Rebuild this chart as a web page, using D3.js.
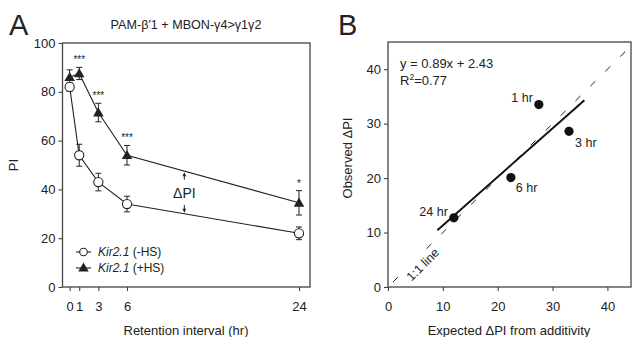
<!DOCTYPE html>
<html><head><meta charset="utf-8">
<script src="https://cdn.jsdelivr.net/npm/d3@7"></script>
<style>
body{margin:0;background:#fff;}
svg text{font-family:"Liberation Sans",Arial,sans-serif;fill:#222;}
</style></head>
<body>
<svg id="c" width="633" height="337"></svg>
<script>
// ---- Panel A data ----
const hours = [0, 1, 3, 6, 24];
const piMinusHS = [82, 54, 43, 34, 22];
const errMinusHS = [1.8, 4.5, 3.6, 3.2, 2.6];
const piPlusHS = [86, 87.5, 71.5, 54, 34.5];
const errPlusHS = [3, 2.5, 3.8, 4, 5];
const sigMarks = ["", "***", "***", "***", "*"];
const xTicksA = [0, 1, 3, 6, 24];
const yTicksA = [0, 20, 40, 60, 80, 100];
const titleA = "PAM-β'1 + MBON-γ4>γ1γ2";
const legendA = [{ital:"Kir2.1", rest:" (-HS)"}, {ital:"Kir2.1", rest:" (+HS)"}];

// ---- Panel B data ----
const labelsB = ["1 hr", "3 hr", "6 hr", "24 hr"];
const expectedB = [27.5, 33.0, 22.4, 12.0];
const observedB = [33.5, 28.6, 20.1, 12.7];
const fitSlope = 0.89, fitIntercept = 2.43;
const fitRange = [9, 35.8];
const xTicksB = [0, 10, 20, 30, 40];
const yTicksB = [0, 10, 20, 30, 40];

const svg = d3.select("#c");
const ink = "#222", frame = "#444";

// ================= Panel A =================
const xA = d3.scaleLinear().domain([-0.75, 25.15]).range([62.5, 310]);
const yA = d3.scaleLinear().domain([0, 100]).range([287, 43]);
const gA = svg.append("g");

gA.append("rect").attr("x", xA.range()[0]).attr("y", yA.range()[1])
  .attr("width", xA.range()[1]-xA.range()[0]).attr("height", yA.range()[0]-yA.range()[1])
  .attr("fill","none").attr("stroke",frame).attr("stroke-width",1.3);

const axA_x = gA.append("g").attr("transform",`translate(0,${yA.range()[0]})`)
  .call(d3.axisBottom(xA).tickValues(xTicksA).tickSize(4).tickPadding(11).tickFormat(d3.format("d")));
const axA_y = gA.append("g").attr("transform",`translate(${xA.range()[0]},0)`)
  .call(d3.axisLeft(yA).tickValues(yTicksA).tickSize(4).tickPadding(3));
[axA_x, axA_y].forEach(a=>{
  a.select(".domain").remove();
  a.selectAll("line").attr("stroke",frame).attr("stroke-width",1.1);
  a.selectAll("text").style("font-size","13px").attr("fill",ink);
});

const lineA = (vals)=> d3.line().x((d,i)=>xA(hours[i])).y(d=>yA(d))(vals);
gA.append("path").attr("d",lineA(piMinusHS)).attr("fill","none").attr("stroke",ink).attr("stroke-width",1.1);
gA.append("path").attr("d",lineA(piPlusHS)).attr("fill","none").attr("stroke",ink).attr("stroke-width",1.1);

function errBars(vals, errs){
  vals.forEach((v,i)=>{
    const x = xA(hours[i]);
    gA.append("line").attr("x1",x).attr("x2",x).attr("y1",yA(v-errs[i])).attr("y2",yA(v+errs[i]))
      .attr("stroke",ink).attr("stroke-width",1);
    [v-errs[i], v+errs[i]].forEach(e=>{
      gA.append("line").attr("x1",x-3).attr("x2",x+3).attr("y1",yA(e)).attr("y2",yA(e))
        .attr("stroke",ink).attr("stroke-width",1);
    });
  });
}
errBars(piMinusHS, errMinusHS);
errBars(piPlusHS, errPlusHS);

const tri = d3.symbol().type(d3.symbolTriangle).size(48);
piPlusHS.forEach((v,i)=>{
  gA.append("path").attr("d",tri()).attr("transform",`translate(${xA(hours[i])},${yA(v)+0.8})`).attr("fill",ink);
});
piMinusHS.forEach((v,i)=>{
  gA.append("circle").attr("cx",xA(hours[i])).attr("cy",yA(v)).attr("r",4.6)
    .attr("fill","#fff").attr("stroke",ink).attr("stroke-width",1.1);
});

sigMarks.forEach((s,i)=>{
  if(!s) return;
  gA.append("text").attr("x",xA(hours[i])).attr("y",yA(piPlusHS[i]+errPlusHS[i])-4)
    .attr("text-anchor","middle").style("font-size","10px").attr("fill","#333").text(s);
});

const annX = xA(12);
function arrow(fromV, toV){
  const y1 = yA(fromV), y2 = yA(toV);
  gA.append("line").attr("x1",annX).attr("x2",annX).attr("y1",y1).attr("y2",y2).attr("stroke",ink).attr("stroke-width",1);
  const dir = y2 < y1 ? 1 : -1;
  gA.append("path").attr("d",`M${annX},${y2} L${annX-2},${y2+dir*3.5} L${annX+2},${y2+dir*3.5} Z`).attr("fill",ink);
}
arrow(44, 46.8);
arrow(33.6, 30.6);
gA.append("text").attr("x",annX).attr("y",yA(38.6)+5).attr("text-anchor","middle")
  .style("font-size","14px").text("ΔPI");

legendA.forEach((l,i)=>{
  const y = 252 + i*16;
  gA.append("line").attr("x1",76).attr("x2",91).attr("y1",y).attr("y2",y).attr("stroke",ink).attr("stroke-width",1.1);
  if(i===0){
    gA.append("circle").attr("cx",83.5).attr("cy",y).attr("r",3.8).attr("fill","#fff").attr("stroke",ink).attr("stroke-width",1.1);
  } else {
    gA.append("path").attr("d",tri()).attr("transform",`translate(83.5,${y+0.5})`).attr("fill",ink);
  }
  const t = gA.append("text").attr("x",98).attr("y",y+4).style("font-size","12px");
  t.append("tspan").style("font-style","italic").text(l.ital);
  t.append("tspan").text(l.rest);
});

gA.append("text").attr("x",186).attr("y",29).attr("text-anchor","middle").style("font-size","12.6px").text(titleA);
gA.append("text").attr("x",9).attr("y",35).style("font-size","29px").text("A");
gA.append("text").attr("transform",`translate(18,${165}) rotate(-90)`).attr("text-anchor","middle")
  .style("font-size","13px").text("PI");
gA.append("text").attr("x",186).attr("y",335).attr("text-anchor","middle").style("font-size","13px")
  .text("Retention interval (hr)");

// ================= Panel B =================
const xB = d3.scaleLinear().domain([0, 44.3]).range([388, 631]);
const yB = d3.scaleLinear().domain([0, 45]).range([287, 42]);
const gB = svg.append("g");

gB.append("rect").attr("x", xB.range()[0]).attr("y", yB.range()[1])
  .attr("width", xB.range()[1]-xB.range()[0]).attr("height", yB.range()[0]-yB.range()[1])
  .attr("fill","none").attr("stroke",frame).attr("stroke-width",1.3);

const axB_x = gB.append("g").attr("transform",`translate(0,${yB.range()[0]})`)
  .call(d3.axisBottom(xB).tickValues(xTicksB).tickSize(4).tickPadding(11));
const axB_y = gB.append("g").attr("transform",`translate(${xB.range()[0]},0)`)
  .call(d3.axisLeft(yB).tickValues(yTicksB).tickSize(4).tickPadding(3));
[axB_x, axB_y].forEach(a=>{
  a.select(".domain").remove();
  a.selectAll("line").attr("stroke",frame).attr("stroke-width",1.1);
  a.selectAll("text").style("font-size","13px").attr("fill",ink);
});

[[0.9, 2.0], [7.0, 43.8]].forEach(seg=>{
  gB.append("line").attr("x1",xB(seg[0])).attr("y1",yB(seg[0])).attr("x2",xB(seg[1])).attr("y2",yB(seg[1]))
    .attr("stroke",ink).attr("stroke-width",1).attr("stroke-dasharray","7,14");
});
{
  const cx = (xB(2.2)+xB(6.8))/2, cy = (yB(2.2)+yB(6.8))/2;
  gB.append("text").attr("transform",`translate(${cx+10},${cy+2}) rotate(-45)`).attr("text-anchor","middle")
    .attr("dy","0.35em").style("font-size","12.5px").text("1:1 line");
}

gB.append("line").attr("x1",xB(fitRange[0])).attr("y1",yB(fitSlope*fitRange[0]+fitIntercept))
  .attr("x2",xB(fitRange[1])).attr("y2",yB(fitSlope*fitRange[1]+fitIntercept))
  .attr("stroke","#111").attr("stroke-width",2);

const labelOffsets = [[-6,-3,"end"],[6,16,"start"],[5,14,"start"],[-6,-2,"end"]];
expectedB.forEach((e,i)=>{
  gB.append("circle").attr("cx",xB(e)).attr("cy",yB(observedB[i])).attr("r",4.6).attr("fill","#111");
  const o = labelOffsets[i];
  gB.append("text").attr("x",xB(e)+o[0]).attr("y",yB(observedB[i])+o[1]).attr("text-anchor",o[2])
    .style("font-size","12.5px").text(labelsB[i]);
});

gB.append("text").attr("x",400).attr("y",68).style("font-size","13px")
  .text(`y = ${fitSlope}x + ${fitIntercept}`);
const r2 = gB.append("text").attr("x",400).attr("y",85).style("font-size","13px");
r2.append("tspan").text("R");
r2.append("tspan").attr("dy",-5).style("font-size","8.5px").text("2");
r2.append("tspan").attr("dy",5).text("=0.77");

gB.append("text").attr("x",338).attr("y",35).style("font-size","29px").text("B");
gB.append("text").attr("transform",`translate(352,${158}) rotate(-90)`).attr("text-anchor","middle")
  .style("font-size","13px").text("Observed ΔPI");
gB.append("text").attr("x",509).attr("y",335).attr("text-anchor","middle").style("font-size","13px")
  .text("Expected ΔPI from additivity");
</script>
</body></html>
